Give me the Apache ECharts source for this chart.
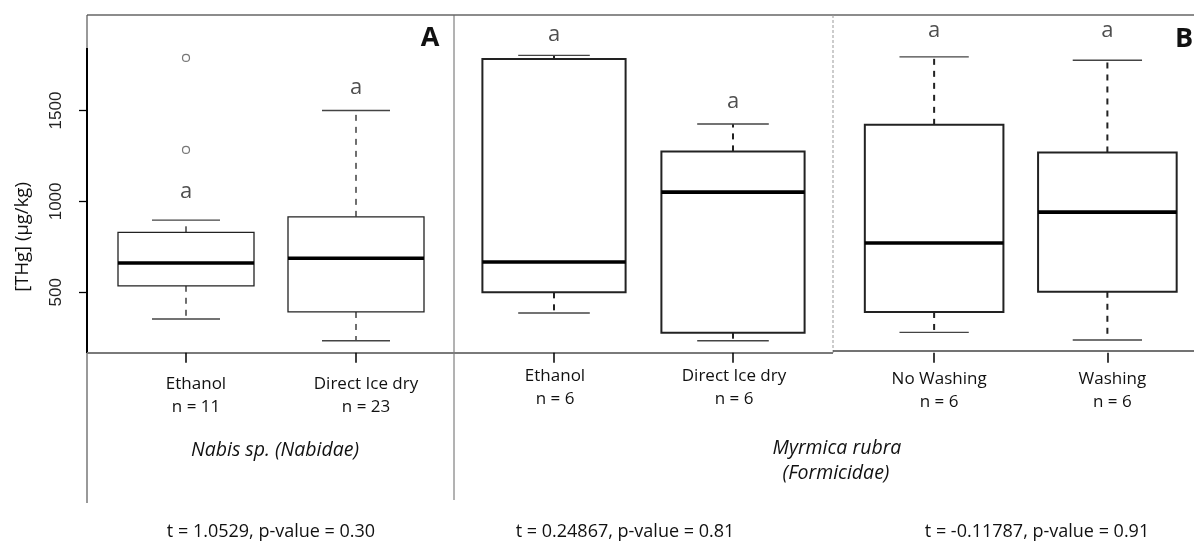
<!DOCTYPE html>
<html>
<head>
<meta charset="utf-8">
<title>THg boxplots</title>
<script src="https://cdn.jsdelivr.net/npm/echarts@6.0.0/dist/echarts.min.js"></script>
<style>
	html, body { margin: 0; padding: 0; background: #fff; }
	#container { width: 1194px; height: 542px; }
</style>
</head>
<body>
<div id="container"></div>
<script>
//treatments and sample sizes per panel
let treatA = ['Ethanol', 'Direct Ice dry'];
let nA = [11, 23];
let treatM = ['Ethanol', 'Direct Ice dry'];
let nM = [6, 6];
let treatB = ['No Washing', 'Washing'];
let nB = [6, 6];

//box stats: [low whisker, Q1, median, Q3, high whisker]
let boxA = [[353, 536, 661, 830, 897], [234, 392, 687, 915, 1500]];
let boxM = [[386, 500, 667, 1783, 1803], [234, 278, 1051, 1275, 1426]];
let boxB = [[280, 392, 771, 1421, 1795], [238, 503, 941, 1269, 1776]];

//outliers [category index, value]
let outA = [[0, 1283], [0, 1789]];

//height of the significance letter above each group
let letterA = [1052, 1624];
let letterM = [1915, 1548];
let letterB = [1937, 1937];
let letters = ['a', 'a'];

//y axis
let yMin = 168, yMax = 2025;
let yTicks = [500, 1000, 1500];

//texts under the plot
let groupA = 'Nabis sp. (Nabidae)';
let groupM = ['Myrmica rubra', '(Formicidae)'];
let tTests = ['t = 1.0529, p-value = 0.30', 't = 0.24867, p-value = 0.81', 't = -0.11787, p-value = 0.91'];
let yName = '[THg] (µg/kg)';

let font = '"Open Sans", "Noto Sans", sans-serif';

function labelsOf(treat, n) {
	return treat.map(function (t, i) { return t + '\nn = ' + n[i]; });
}

function boxData(box) {
	return box.map(function (b, i) { return [i].concat(b); });
}

function letterData(ys) {
	return ys.map(function (y, i) { return [i, y]; });
}

//draws R style box: dashed whiskers, caps, box, thick median
function makeRender(lw) {
	return function (params, api) {
		let idx = api.value(0);
		let lo = api.coord([idx, api.value(1)]);
		let q1 = api.coord([idx, api.value(2)]);
		let md = api.coord([idx, api.value(3)]);
		let q3 = api.coord([idx, api.value(4)]);
		let hi = api.coord([idx, api.value(5)]);
		let band = api.size([1, 0])[0];
		let half = band * 0.4, cap = band * 0.2;
		let x = md[0];
		let dash = { stroke: '#222', lineWidth: lw, lineDash: [6, 6] };
		let solid = { stroke: '#444', lineWidth: 1.4 };
		return {
			type: 'group',
			children: [
				{ type: 'line', shape: { x1: x, y1: q3[1], x2: x, y2: hi[1] }, style: dash },
				{ type: 'line', shape: { x1: x, y1: q1[1], x2: x, y2: lo[1] }, style: dash },
				{ type: 'line', shape: { x1: x - cap, y1: hi[1], x2: x + cap, y2: hi[1] }, style: solid },
				{ type: 'line', shape: { x1: x - cap, y1: lo[1], x2: x + cap, y2: lo[1] }, style: solid },
				{ type: 'rect', shape: { x: x - half, y: q3[1], width: half * 2, height: q1[1] - q3[1] },
					style: { fill: '#fff', stroke: '#222', lineWidth: lw } },
				{ type: 'line', shape: { x1: x - half, y1: md[1], x2: x + half, y2: md[1] },
					style: { stroke: '#000', lineWidth: 3.6 } }
			]
		};
	};
}

function xAxisOf(gi, treat, n, margin, shift) {
	return {
		type: 'category',
		gridIndex: gi,
		data: labelsOf(treat, n),
		axisLine: { show: false },
		axisTick: { show: true, alignWithLabel: true, length: 10, lineStyle: { color: '#000', width: 1.5 } },
		axisLabel: {
			margin: margin, fontFamily: font, fontSize: 17, lineHeight: 23, color: '#111',
			padding: [0, 0, 0, shift * 2]
		},
		splitLine: { show: false }
	};
}

function yAxisOf(gi, show) {
	return {
		type: 'value',
		gridIndex: gi,
		min: yMin,
		max: yMax,
		show: show,
		offset: 14,
		axisLine: { show: false },
		splitLine: { show: false },
		axisTick: { show: true, length: 8, customValues: yTicks, lineStyle: { color: '#000', width: 1.3 } },
		axisLabel: {
			rotate: 90, margin: 22, customValues: yTicks,
			formatter: function (v) { return String(v); },
			fontFamily: '"Liberation Sans", Arial, sans-serif', fontSize: 17, color: '#222'
		}
	};
}

function letterSeries(gi, ys) {
	return {
		type: 'scatter',
		xAxisIndex: gi,
		yAxisIndex: gi,
		data: letterData(ys),
		symbolSize: 1,
		itemStyle: { color: 'transparent' },
		label: {
			show: true,
			position: 'inside',
			formatter: function (p) { return letters[p.dataIndex]; },
			fontFamily: font,
			fontSize: 22,
			color: '#222'
		}
	};
}

function line(x1, y1, x2, y2, color, w, dash) {
	return { type: 'line', silent: true, shape: { x1: x1, y1: y1, x2: x2, y2: y2 },
		style: { stroke: color, lineWidth: w, lineDash: dash || null } };
}

function text(str, x, y, opt) {
	opt = opt || {};
	return {
		type: 'text', silent: true, x: x, y: y, rotation: opt.rotation || 0,
		style: {
			text: str, fill: '#111', fontFamily: font,
			fontSize: opt.size || 17, fontStyle: opt.italic ? 'italic' : 'normal',
			fontWeight: opt.bold ? 'bold' : 'normal',
			align: opt.align || 'center', verticalAlign: 'middle'
		}
	};
}

function initChart() {
	let dom = document.getElementById('container');
	let myChart = echarts.init(dom, null, { renderer: 'canvas' });
	let option = {
		animation: false,
		backgroundColor: '#fff',
		grid: [
			{ left: 101, top: 15, width: 340, height: 337.7 },
			{ left: 464.5, top: 15, width: 358, height: 337.7 },
			{ left: 847.5, top: 15, width: 356.6, height: 337.7 }
		],
		xAxis: [
			xAxisOf(0, treatA, nA, 20, 10),
			xAxisOf(1, treatM, nM, 12, 1),
			xAxisOf(2, treatB, nB, 15, 5)
		],
		yAxis: [yAxisOf(0, true), yAxisOf(1, false), yAxisOf(2, false)],
		series: [
			{ type: 'custom', xAxisIndex: 0, yAxisIndex: 0, renderItem: makeRender(1.3), data: boxData(boxA), encode: { x: 0, y: [1, 2, 3, 4, 5] } },
			{ type: 'custom', xAxisIndex: 1, yAxisIndex: 1, renderItem: makeRender(2), data: boxData(boxM), encode: { x: 0, y: [1, 2, 3, 4, 5] } },
			{ type: 'custom', xAxisIndex: 2, yAxisIndex: 2, renderItem: makeRender(2), data: boxData(boxB), encode: { x: 0, y: [1, 2, 3, 4, 5] } },
			{
				type: 'scatter', xAxisIndex: 0, yAxisIndex: 0, data: outA,
				symbol: 'circle', symbolSize: 7,
				itemStyle: { color: '#fff', borderColor: '#555', borderWidth: 1.2 }
			},
			letterSeries(0, letterA),
			letterSeries(1, letterM),
			letterSeries(2, letterB)
		],
		graphic: [
			//frames
			line(87, 15, 1194, 15, '#8c8c8c', 2),
			line(87, 15, 87, 503, '#555', 1.2),
			line(87, 48, 87, 353, '#000', 2),
			line(454, 15, 454, 500, '#666', 1),
			line(833, 15, 833, 353, '#999', 1, [3, 2]),
			line(87, 353, 833, 353, '#7a7a7a', 2),
			line(833, 351, 1194, 351, '#444', 1.3),
			//panel letters
			text('A', 430, 38, { size: 27, bold: true }),
			text('B', 1175, 39, { size: 27, bold: true, align: 'left' }),
			//y name
			text(yName, 23, 237, { size: 18.5, rotation: Math.PI / 2 }),
			//group names
			text(groupA, 275, 450, { italic: true, size: 19.5 }),
			text(groupM[0], 837, 448, { italic: true, size: 19.5 }),
			text(groupM[1], 836, 473, { italic: true, size: 19.5 }),
			//t tests
			text(tTests[0], 271, 532, { size: 18 }),
			text(tTests[1], 625, 532, { size: 18 }),
			text(tTests[2], 1037, 532, { size: 18 })
		]
	};
	if (option && typeof option === "object") {
		myChart.setOption(option, true);
	}
}

initChart();
</script>
</body>
</html>
